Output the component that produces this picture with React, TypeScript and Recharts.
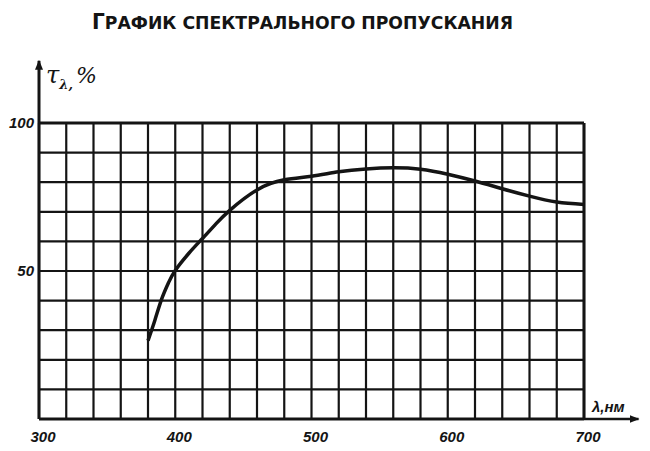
import React from "react";
import { LineChart, Line, XAxis, YAxis, CartesianGrid, ReferenceLine } from "recharts";

const wavelengths = [380, 385, 390, 395, 400, 410, 420, 430, 440, 460, 480, 500, 520, 540, 560, 580, 600, 620, 640, 660, 680, 700];
const transmission = [26.5, 33.3, 40.5, 46, 50.2, 56, 61, 66, 70.5, 77.4, 80.8, 82, 83.5, 84.5, 84.9, 84.4, 82.7, 80.4, 77.8, 75.3, 73.3, 72.5];
const xGridTicks = [300, 320, 340, 360, 380, 400, 420, 440, 460, 480, 500, 520, 540, 560, 580, 600, 620, 640, 660, 680, 700];
const xLabelTicks = [300, 400, 500, 600, 700];
const yGridTicks = [0, 10, 20, 30, 40, 50, 60, 70, 80, 90, 100];
const yLabelTicks = [50, 100];
const title = "ГРАФИК СПЕКТРАЛЬНОГО ПРОПУСКАНИЯ";

const data = wavelengths.map((nm, i) => ({ nm, t: transmission[i] }));

const INK = "#141414";
const labelFont = "'Liberation Sans', Arial, sans-serif";

const XTick = (props: any) => {
  const v = props.payload.value;
  if (!xLabelTicks.includes(v)) return null;
  return (
    <text x={props.x + 4} y={props.y + 23} textAnchor="middle" fontFamily={labelFont} fontStyle="italic" fontWeight="bold" fontSize={15} fill={INK}>
      {v}
    </text>
  );
};

const YTick = (props: any) => {
  const v = props.payload.value;
  if (!yLabelTicks.includes(v)) return null;
  return (
    <text x={props.x} y={props.y + 5} textAnchor="end" fontFamily={labelFont} fontStyle="italic" fontWeight="bold" fontSize={15} fill={INK}>
      {v}
    </text>
  );
};

export default function App() {
  return (
    <div style={{ width: 650, height: 451, background: "#fff" }}>
      <style>{`body{margin:0;background:#fff}`}</style>
      <LineChart width={650} height={451} data={data} margin={{ top: 123, right: 66, bottom: 0, left: 0 }}>
        <defs>
          <marker id="arrowHead" viewBox="0 0 10 8" refX="9" refY="4" markerWidth="10" markerHeight="8" markerUnits="userSpaceOnUse" orient="auto">
            <path d="M0,0 L10,4 L0,8 z" fill={INK} />
          </marker>
        </defs>
        <text x={92} y={29} textLength={421} lengthAdjust="spacingAndGlyphs" fontFamily="'DejaVu Sans Condensed', 'DejaVu Sans', sans-serif" fontWeight="bold" fontSize={18} fill={INK}>
          <tspan fontSize={21}>Г</tspan>
          {title.slice(1)}
        </text>
        <text x={46} y={83} fontFamily="'DejaVu Serif', serif" fontStyle="italic" fill={INK}>
          <tspan fontSize={24}>τ</tspan>
          <tspan fontSize={13} fontWeight="bold" dy={6}>λ,</tspan>
          <tspan fontSize={22} dy={-6} dx={3}>%</tspan>
        </text>
        <text x={592} y={412} fontFamily={labelFont} fontStyle="italic" fontWeight="bold" fontSize={15} fill={INK}>
          λ,нм
        </text>
        <CartesianGrid stroke={INK} strokeWidth={2.2} strokeOpacity={1} />
        <XAxis
          type="number"
          dataKey="nm"
          domain={[300, 700]}
          ticks={xGridTicks}
          interval={0}
          height={32}
          tickSize={0}
          tickMargin={0}
          tick={<XTick />}
          axisLine={{ stroke: INK, strokeWidth: 3 }}
          tickLine={false}
        />
        <YAxis
          type="number"
          domain={[0, 100]}
          ticks={yGridTicks}
          interval={0}
          width={39}
          tickSize={0}
          tickMargin={5}
          tick={<YTick />}
          axisLine={{ stroke: INK, strokeWidth: 3 }}
          tickLine={false}
        />
        <ReferenceLine segment={[{ x: 300, y: 100 }, { x: 300, y: 121 }]} ifOverflow="visible" stroke={INK} strokeWidth={3} markerEnd="url(#arrowHead)" />
        <ReferenceLine segment={[{ x: 700, y: 0 }, { x: 740, y: 0 }]} ifOverflow="visible" stroke={INK} strokeWidth={2.5} markerEnd="url(#arrowHead)" />
        <ReferenceLine x={700} stroke={INK} strokeWidth={3} />
        <ReferenceLine y={100} stroke={INK} strokeWidth={3} />
        <Line type="natural" dataKey="t" stroke={INK} strokeWidth={3.5} dot={false} isAnimationActive={false} />
      </LineChart>
    </div>
  );
}
